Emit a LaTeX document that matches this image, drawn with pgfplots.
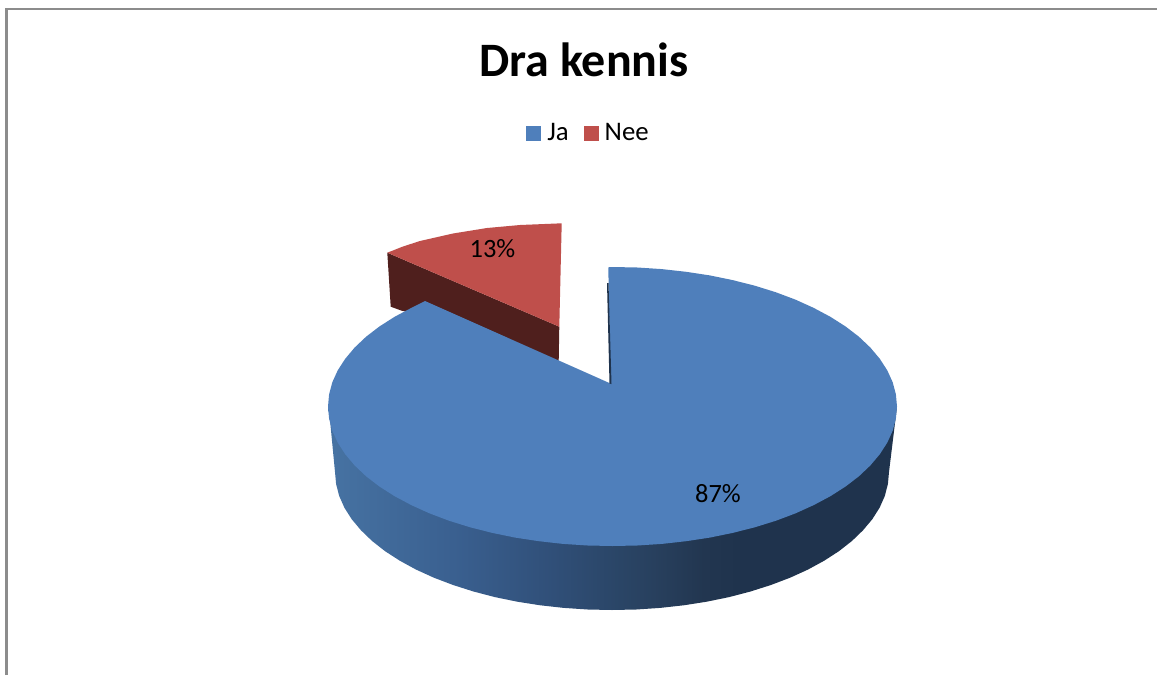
\documentclass[border=0pt]{standalone}
\usepackage{fontspec}
\setmainfont{Carlito}
\usepackage{pgfplots}
\pgfplotsset{compat=1.18}
\definecolor{jablue}{HTML}{4F7FBB}
\definecolor{neered}{HTML}{BF4F4B}
\definecolor{needark}{HTML}{4F1F1D}
\definecolor{bluedark}{HTML}{1F334D}
\definecolor{frame}{HTML}{8C8C8C}
\definecolor{sa}{HTML}{4672A2}
\definecolor{sb}{HTML}{446F9F}
\definecolor{sc}{HTML}{3A6090}
\definecolor{sd}{HTML}{304F78}
\definecolor{se}{HTML}{2A4566}
\definecolor{sf}{HTML}{28405E}
\definecolor{sg}{HTML}{223650}
% side of the pie, left to right (the middle 50bp span the path)
\pgfdeclarehorizontalshading{sideblue}{100bp}{
  color(0bp)=(sa); color(25.5bp)=(sa); color(27.2bp)=(sb); color(36bp)=(sc);
  color(44.8bp)=(sd); color(50.7bp)=(se); color(53.6bp)=(sf); color(58bp)=(sg);
  color(61bp)=(bluedark); color(100bp)=(bluedark)}

\begin{document}
\begin{tikzpicture}
\path[use as bounding box] (0,0) rectangle (578.5pt,337.5pt);
\begin{axis}[
  scale only axis, width=578.5pt, height=337.5pt,
  xmin=0, xmax=1157, ymin=0, ymax=675, y dir=reverse,
  hide axis,
  every axis title shift=0pt,
  title={\fontsize{24pt}{28pt}\selectfont\bfseries Dra kennis},
  title style={at={(axis cs:584,60)}, anchor=center},
  legend style={at={(axis cs:589.5,133)}, anchor=center, draw=none, fill=none,
    legend columns=2, font=\fontsize{13.4pt}{15pt}\selectfont,
    /tikz/every even column/.append style={column sep=5.5pt}},
]
\addlegendimage{legend image code/.code={\path[draw=none] (0pt,0pt) -- (8.5pt,0pt); \fill[jablue,draw=none] (0pt,-3.75pt) rectangle (7.5pt,3.75pt);}}
\addlegendimage{legend image code/.code={\path[draw=none] (0pt,0pt) -- (8.5pt,0pt); \fill[neered,draw=none] (0pt,-3.75pt) rectangle (7.5pt,3.75pt);}}

% frame, top and left only
\addplot[frame, line width=1pt, forget plot] coordinates {(6.5,675) (6.5,8.5) (1157,8.5)};

% blue side
\addplot[shading=sideblue, draw=none, forget plot] coordinates {
  (328,406.5) (330,420) (335,472) (336.1,484) (339.2,496) (344.4,507.7) (351.7,519.2)
  (361,530.3) (372.1,541) (385.1,551.2) (399.8,560.7) (416.1,569.6) (433.9,577.7)
  (453.1,585) (473.5,591.5) (494.9,597.1) (517.3,601.7) (540.3,605.3) (563.9,607.9)
  (587.8,609.5) (612,610) (636.2,609.5) (660.1,607.9) (683.7,605.3) (706.7,601.7)
  (729.1,597.1) (750.5,591.5) (770.9,585) (790.1,577.7) (807.9,569.6) (824.2,560.7)
  (838.9,551.2) (851.9,541) (863,530.3) (872.3,519.2) (879.6,507.7) (884.8,496)
  (887.9,484) (889,472) (895,423) (897,406.5)};

% red slice, inner wall then top
\addplot[fill=needark, draw=none, forget plot] coordinates {
  (387.3,252.7) (559.3,326.7) (558.7,361) (420,315) (401.7,310.7) (390.7,306.7)};
\addplot[fill=neered, draw=none, forget plot] coordinates {
  (387.3,252.7) (403,246.5) (420,241) (453,233.5) (487,228) (520,225) (561.7,223.3)
  (559.3,326.7)};

% blue top
\addplot[fill=jablue, draw=none, forget plot] coordinates {
  (608.3,267.3) (612.5,267) (637.3,267.5) (661.9,269.1) (686.1,271.8) (709.8,275.4)
  (732.7,280.1) (754.8,285.7) (775.7,292.2) (795.4,299.6) (813.7,307.9) (830.4,316.8)
  (845.6,326.5) (858.9,336.7) (870.3,347.5) (879.8,358.8) (887.3,370.4) (892.7,382.3)
  (895.9,394.3) (897,406.5) (895.9,418.7) (892.7,430.7) (887.3,442.6) (879.8,454.2)
  (870.3,465.5) (858.9,476.3) (845.6,486.5) (830.4,496.2) (813.7,505.1) (795.4,513.4)
  (775.7,520.8) (754.8,527.3) (732.7,532.9) (709.8,537.6) (686.1,541.2) (661.9,543.9)
  (637.3,545.5) (612.5,546) (587.7,545.5) (563.1,543.9) (538.9,541.2) (515.2,537.6)
  (492.3,532.9) (470.2,527.3) (449.3,520.8) (429.6,513.4) (411.3,505.1) (394.6,496.2)
  (379.4,486.5) (366.1,476.3) (354.7,465.5) (345.2,454.2) (337.7,442.6) (332.3,430.7)
  (329.1,418.7) (328,406.5) (329.1,394.3) (332.3,382.3) (337.7,370.4) (345.2,358.8)
  (354.7,347.5) (366.1,336.7) (379.4,326.5) (394.6,316.8) (411.3,307.9) (425,301)
  (610.5,383.5)};

% dark sliver of the cut edge
\addplot[fill=bluedark, draw=none, forget plot] coordinates {
  (607,283) (608.5,283) (611.5,384) (609.5,383.5)};

\node[font=\fontsize{13.2pt}{15pt}\selectfont] at (axis cs:492.5,249) {13\%};
\node[font=\fontsize{13.2pt}{15pt}\selectfont] at (axis cs:718,494) {87\%};

\legend{Ja, Nee}
\end{axis}
\end{tikzpicture}
\end{document}
